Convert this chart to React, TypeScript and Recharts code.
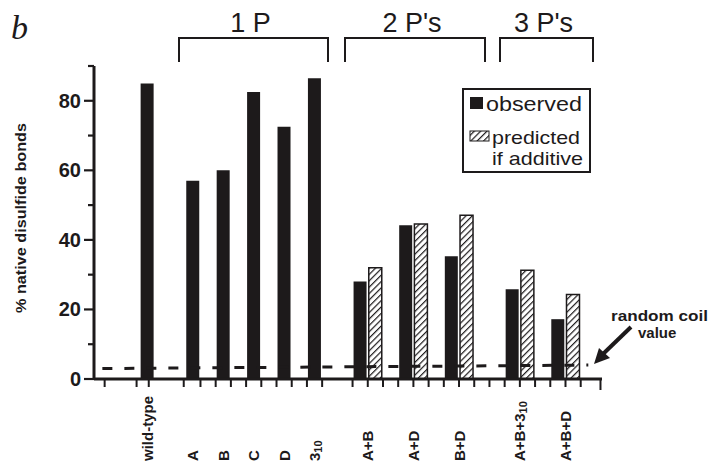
import React from 'react';
import { BarChart, Bar, XAxis, YAxis, ReferenceLine } from 'recharts';

// mutants, in the order they appear along the axis
const categories = ['wild-type', 'A', 'B', 'C', 'D', '3₁₀', 'A+B', 'A+D', 'B+D', 'A+B+3₁₀', 'A+B+D'];
// where each mutant sits on the (slot-numbered) x axis
const slots = [3.5, 6.5, 8.5, 10.5, 12.5, 14.5, 18, 21, 24, 28, 31];
const observed = [85, 57, 60, 82.5, 72.5, 86.5, 28, 44.2, 35.3, 25.8, 17.2];
const predicted = [null, null, null, null, null, null, 32, 44.6, 47.1, 31.3, 24.3];

const yTicks = [0, 10, 20, 30, 40, 50, 60, 70, 80, 90];
const yLabels = [0, 20, 40, 60, 80];
const xTickMarks = [0.7, 2.8, 3.6, 5.9, 7, 8, 9, 10, 11, 12, 13, 14, 15, 17, 18, 19, 20, 21, 22, 23, 24, 25, 26, 27, 28, 29, 30, 31, 32, 33.3];
const randomCoil = [3, 4];

const X_MAX = 33.4;
const FONT = '"Liberation Sans", Arial, Helvetica, sans-serif';
const INK = '#1d1a1b';

// one row per bar; paired groups put observed left, predicted right
const rows: { x: number; observed?: number; predicted?: number }[] = [];
categories.forEach((_, i) => {
  if (predicted[i] == null) {
    rows.push({ x: slots[i], observed: observed[i] });
  } else {
    rows.push({ x: slots[i] - 0.5, observed: observed[i] });
    rows.push({ x: slots[i] + 0.5, predicted: predicted[i] as number });
  }
});

const allXTicks = Array.from(new Set([...xTickMarks, ...slots])).sort((a, b) => a - b);

function renderLabel(label: string) {
  if (label.endsWith('₁₀')) {
    return (
      <>
        {label.slice(0, -2)}
        <tspan fontSize={11} dy={3}>10</tspan>
      </>
    );
  }
  return label;
}

const XTick = (props: any) => {
  const { x, y, payload } = props;
  const v = Number(payload.value);
  const mark = xTickMarks.some((m) => Math.abs(m - v) < 1e-6);
  const idx = slots.findIndex((s) => Math.abs(s - v) < 1e-6);
  const len = v > 33 ? 11 : 8;
  return (
    <g>
      {mark && <line x1={x} x2={x} y1={y} y2={y + len} stroke={INK} strokeWidth={2} />}
      {idx >= 0 && (
        <text
          transform={`translate(${x},${y + 82}) rotate(-90)`}
          textAnchor="start"
          dominantBaseline="central"
          fontFamily={FONT}
          fontWeight="bold"
          fontSize={15}
          fill={INK}
        >
          {renderLabel(categories[idx])}
        </text>
      )}
    </g>
  );
};

const YTick = (props: any) => {
  const { x, y, payload } = props;
  const v = payload.value;
  const labeled = yLabels.includes(v);
  return (
    <g>
      <line x1={x - (labeled ? 10 : 6)} x2={x} y1={y} y2={y} stroke={INK} strokeWidth={2.2} />
      {labeled && (
        <text
          x={x - 13}
          y={y}
          textAnchor="end"
          dominantBaseline="central"
          fontFamily={FONT}
          fontWeight="bold"
          fontSize={20}
          fill={INK}
        >
          {v}
        </text>
      )}
    </g>
  );
};

const groups = [
  { label: '1 P', x1: 179, x2: 328 },
  { label: "2 P's", x1: 345, x2: 485 },
  { label: "3 P's", x1: 500, x2: 593 },
];

export default function App() {
  return (
    <div style={{ position: 'absolute', left: 0, top: 0, width: 709, height: 465, background: '#fff' }}>
      <BarChart
        width={709}
        height={465}
        data={rows}
        margin={{ top: 66, right: 107, bottom: 6, left: 34 }}
      >
        <XAxis
          dataKey="x"
          type="number"
          domain={[0, X_MAX]}
          ticks={allXTicks}
          interval={0}
          tick={<XTick />}
          tickLine={false}
          tickSize={0}
          tickMargin={0}
          height={80}
          axisLine={{ stroke: INK, strokeWidth: 3 }}
        />
        <YAxis
          type="number"
          domain={[0, 90]}
          ticks={yTicks}
          interval={0}
          tick={<YTick />}
          tickLine={false}
          tickSize={0}
          tickMargin={0}
          width={60}
          axisLine={{ stroke: INK, strokeWidth: 3 }}
        />
        <Bar dataKey="observed" stackId="g" fill={INK} barSize={13} isAnimationActive={false} />
        <Bar
          dataKey="predicted"
          stackId="g"
          fill="url(#hatch)"
          stroke={INK}
          strokeWidth={1.5}
          barSize={13}
          isAnimationActive={false}
        />
        <ReferenceLine
          segment={[
            { x: 0.55, y: randomCoil[0] },
            { x: 32.5, y: randomCoil[1] },
          ]}
          stroke={INK}
          strokeWidth={3}
          strokeDasharray="10 12"
          ifOverflow="visible"
        />
      </BarChart>

      <svg
        width={709}
        height={465}
        style={{ position: 'absolute', left: 0, top: 0, pointerEvents: 'none' }}
      >
        <defs>
          <pattern id="hatch" patternUnits="userSpaceOnUse" width={4.5} height={4.5} patternTransform="rotate(45)">
            <rect width={4.5} height={4.5} fill="#fff" />
            <line x1={0} y1={0} x2={0} y2={4.5} stroke={INK} strokeWidth={2.4} />
          </pattern>
        </defs>

        <text x={11} y={39} fontFamily='"Liberation Serif", "DejaVu Serif", serif' fontStyle="italic" fontSize={34} fill={INK}>
          b
        </text>

        {groups.map((g) => (
          <g key={g.label}>
            <path d={`M${g.x1} 62 V38 H${g.x2} V62`} fill="none" stroke={INK} strokeWidth={2} />
            <text
              x={(g.x1 + g.x2) / 2 - 3}
              y={32}
              textAnchor="middle"
              fontFamily={FONT}
              fontSize={27}
              fill={INK}
            >
              {g.label}
            </text>
          </g>
        ))}

        <text
          transform="translate(20,218) rotate(-90)"
          textAnchor="middle"
          dominantBaseline="central"
          fontFamily={FONT}
          fontWeight="bold"
          fontSize={15}
          fill={INK}
          textLength={190}
          lengthAdjust="spacingAndGlyphs"
        >
          % native disulfide bonds
        </text>

        <rect x={463} y={89} width={127} height={83} fill="#fff" stroke={INK} strokeWidth={2} />
        <rect x={470} y={97} width={13} height={12} fill={INK} />
        <text x={486} y={111} fontFamily={FONT} fontSize={20} fill={INK} textLength={96} lengthAdjust="spacingAndGlyphs">
          observed
        </text>
        <rect x={470} y={131} width={19} height={10} fill="url(#hatch)" stroke={INK} strokeWidth={1} />
        <text x={492} y={144} fontFamily={FONT} fontSize={19} fill={INK} textLength={88} lengthAdjust="spacingAndGlyphs">
          predicted
        </text>
        <text x={492} y={165} fontFamily={FONT} fontSize={19} fill={INK} textLength={91} lengthAdjust="spacingAndGlyphs">
          if additive
        </text>

        <text x={611} y={321} fontFamily={FONT} fontWeight="bold" fontSize={15} fill={INK} textLength={97} lengthAdjust="spacingAndGlyphs">
          random coil
        </text>
        <text x={638} y={338} fontFamily={FONT} fontWeight="bold" fontSize={15} fill={INK}>
          value
        </text>
        <line x1={631} y1={327} x2={603} y2={354} stroke={INK} strokeWidth={4} />
        <polygon points="594,364 599,348 610,358" fill={INK} />
      </svg>
    </div>
  );
}
